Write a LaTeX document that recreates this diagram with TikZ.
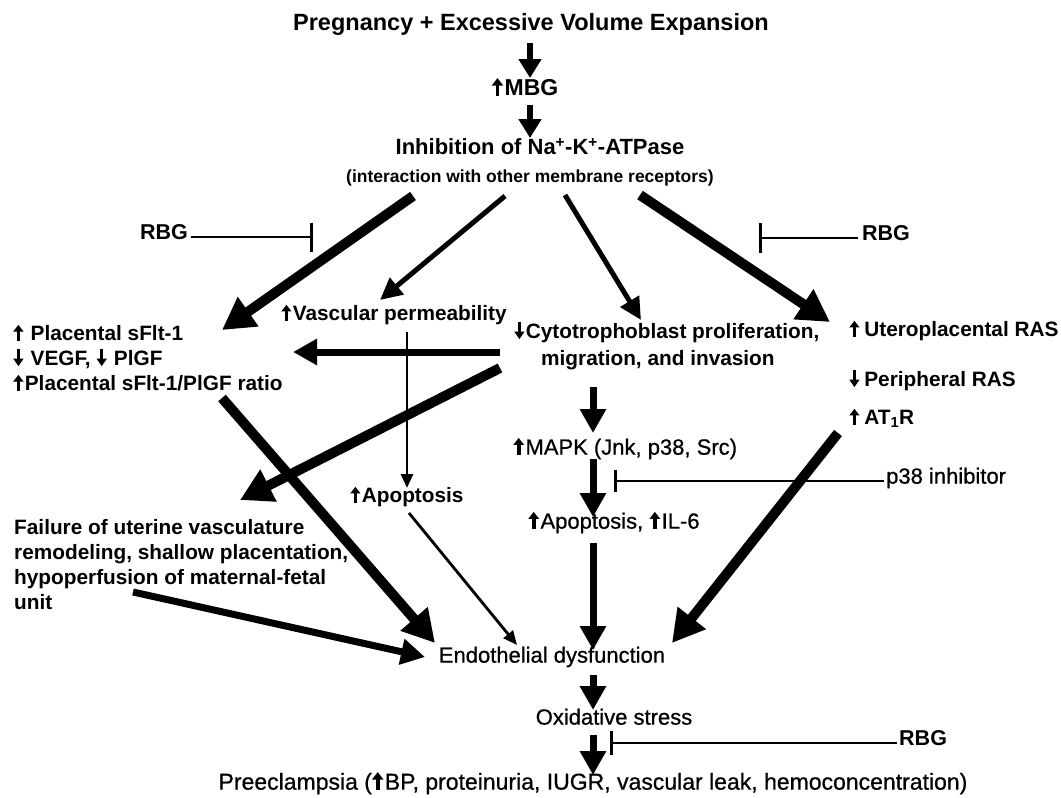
\documentclass[tikz,border=0pt]{standalone}
\usepackage{fontspec}
\setmainfont{Liberation Sans}
\newfontfamily\medfont[FakeBold=0.7]{Liberation Sans}
\usetikzlibrary{arrows.meta}
\newcommand\ua{\tikz[baseline=0pt]{\fill (-0.085em,0pt) rectangle (0.085em,0.48em); \fill (-0.25em,0.44em) -- (0.25em,0.44em) -- (0pt,0.76em) -- cycle;}\kern0.06em}
\newcommand\da{\tikz[baseline=0pt]{\fill (-0.085em,0.30em) rectangle (0.085em,0.78em); \fill (-0.25em,0.34em) -- (0.25em,0.34em) -- (0pt,-0.02em) -- cycle;}\kern0.06em}
\newcommand\fz[2]{\fontsize{#1pt}{#2pt}\selectfont}
\begin{document}
\begin{tikzpicture}[x=1pt,y=-1pt,
  txt/.style={inner sep=0pt,anchor=mid},
  lft/.style={inner sep=0pt,anchor=mid west},
  bA/.style={font=\fz{20.8}{25}\bfseries},
  rA/.style={font=\fz{22}{26}\medfont},
  huge/.style={line width=10pt,-{Triangle[length=32pt,width=34pt]}},
  big/.style={line width=7pt,-{Triangle[length=24pt,width=25pt]}},
  topar/.style={line width=6pt,-{Triangle[length=19pt,width=22pt]}},
  mid/.style={line width=5pt,-{Triangle[length=22pt,width=21pt]}},
  thin/.style={line width=2.8pt,-{Triangle[length=14pt,width=12pt]}},
  inhib/.style={line width=2.3pt,-{Bar[width=#1,line width=3pt]}}]
\useasboundingbox (0,0) rectangle (1061,798);

% nodes
\node[txt,font=\fz{23.5}{28}\bfseries] (preg) at (531,28) {Pregnancy + Excessive Volume Expansion};
\node[txt,font=\fz{23}{28}\bfseries] (mbg) at (525,93) {\ua MBG};
\node[txt,font=\fz{22}{26}\bfseries] (inh) at (540,152) {Inhibition of Na\textsuperscript{+}-K\textsuperscript{+}-ATPase};
\node[txt,font=\fz{17.5}{21}\bfseries] (intr) at (530,180) {(interaction with other membrane receptors)};
\node[txt,font=\fz{21.5}{26}\bfseries] (rbgl) at (164,237) {RBG};
\node[txt,font=\fz{21.5}{26}\bfseries] (rbgr) at (886,238) {RBG};
\node[bA,inner sep=0pt,anchor=west,align=left] (plac) at (13,358)
  {\ua\ Placental sFlt-1\\\da\ VEGF, \da\ PlGF\\\ua Placental sFlt-1/PlGF ratio};
\node[bA,lft] (vasc) at (281,318) {\ua Vascular permeability};
\node[bA,lft] (cyto) at (514,336) {\da Cytotrophoblast proliferation,};
\node[bA,lft] (cyto2) at (541,363) {migration, and invasion};
\node[bA,lft] (uter) at (849,334) {\ua\,Uteroplacental RAS};
\node[bA,lft] (peri) at (849,384) {\da\,Peripheral RAS};
\node[bA,lft] (at1r) at (849,422) {\ua\,AT\textsubscript{1}R};
\node[rA,lft] (mapk) at (513,452) {\ua MAPK (Jnk, p38, Src)};
\node[rA,lft] (p38) at (886,481) {p38 inhibitor};
\node[bA,lft] (apop) at (350,500) {\ua Apoptosis};
\node[rA,lft] (apil) at (528,526) {\ua Apoptosis, \ua IL-6};
\node[bA,inner sep=0pt,anchor=west,align=left] (fail) at (14,565)
  {Failure of uterine vasculature\\remodeling, shallow placentation,\\hypoperfusion of maternal-fetal\\unit};
\node[rA,txt] (endo) at (552,660) {Endothelial dysfunction};
\node[rA,txt] (oxid) at (614,722) {Oxidative stress};
\node[lft,font=\fz{21.5}{26}\bfseries] (rbgb) at (899,743) {RBG};
\node[txt,font=\fz{23}{28}\medfont] (pre) at (593,787) {Preeclampsia (\ua BP, proteinuria, IUGR, vascular leak, hemoconcentration)};

% connector end points
\coordinate (c1) at (530,43);   \coordinate (c2) at (530,78);
\coordinate (c3) at (530,105);  \coordinate (c4) at (530,138);
\coordinate (iL) at (413,196);  \coordinate (pT) at (222,330);
\coordinate (iV) at (505,196);  \coordinate (vT) at (380,300);
\coordinate (iC) at (565,195);  \coordinate (cT) at (641,320);
\coordinate (iR) at (640,195);  \coordinate (uT) at (830,322);
\coordinate (cH) at (500,352);  \coordinate (pH) at (293,352);
\coordinate (cF) at (500,368);  \coordinate (fT) at (240,500);
\coordinate (pS) at (222,398);  \coordinate (eA) at (435,643);
\coordinate (vS) at (407,332);  \coordinate (aT) at (407,488);
\coordinate (aS) at (409,513);  \coordinate (eB) at (517,645);
\coordinate (cS) at (593,387);  \coordinate (mT) at (593,433);
\coordinate (mS) at (593,459);  \coordinate (iT) at (593,517);
\coordinate (iS) at (593,543);  \coordinate (eC) at (593,650);
\coordinate (fS) at (133,592);  \coordinate (eD) at (425,657);
\coordinate (rS) at (838,433);  \coordinate (eE) at (672,643);
\coordinate (eS) at (593,675);  \coordinate (oT) at (593,710);
\coordinate (oS) at (593,735);  \coordinate (pP) at (593,775);
\coordinate (barL) at (313,237);
\coordinate (barR) at (759,238);
\coordinate (barP) at (614,481);
\coordinate (barB) at (610,743);

% connectors
\draw[topar] (c1) -- (c2);
\draw[topar] (c3) -- (c4);
\draw[huge] (iL) -- (pT);
\draw[mid] (iV) -- (vT);
\draw[mid] (iC) -- (cT);
\draw[huge] (iR) -- (uT);
\draw[big] (cH) -- (pH);
\draw[huge] (cF) -- (fT);
\draw[huge] (pS) -- (eA);
\draw[thin] (vS) -- (aT);
\draw[thin] (aS) -- (eB);
\draw[big] (cS) -- (mT);
\draw[big] (mS) -- (iT);
\draw[big] (iS) -- (eC);
\draw[big] (fS) -- (eD);
\draw[huge] (rS) -- (eE);
\draw[big] (eS) -- (oT);
\draw[big] (oS) -- (pP);

% inhibitions
\draw[inhib=29pt] ([xshift=3pt]rbgl.east |- barL) -- (barL);
\draw[inhib=30pt] ([xshift=-4pt]rbgr.west |- barR) -- (barR);
\draw[inhib=22pt] ([xshift=-2pt]p38.west |- barP) -- (barP);
\draw[inhib=24pt] ([xshift=-2pt]rbgb.west |- barB) -- (barB);
\end{tikzpicture}
\end{document}
